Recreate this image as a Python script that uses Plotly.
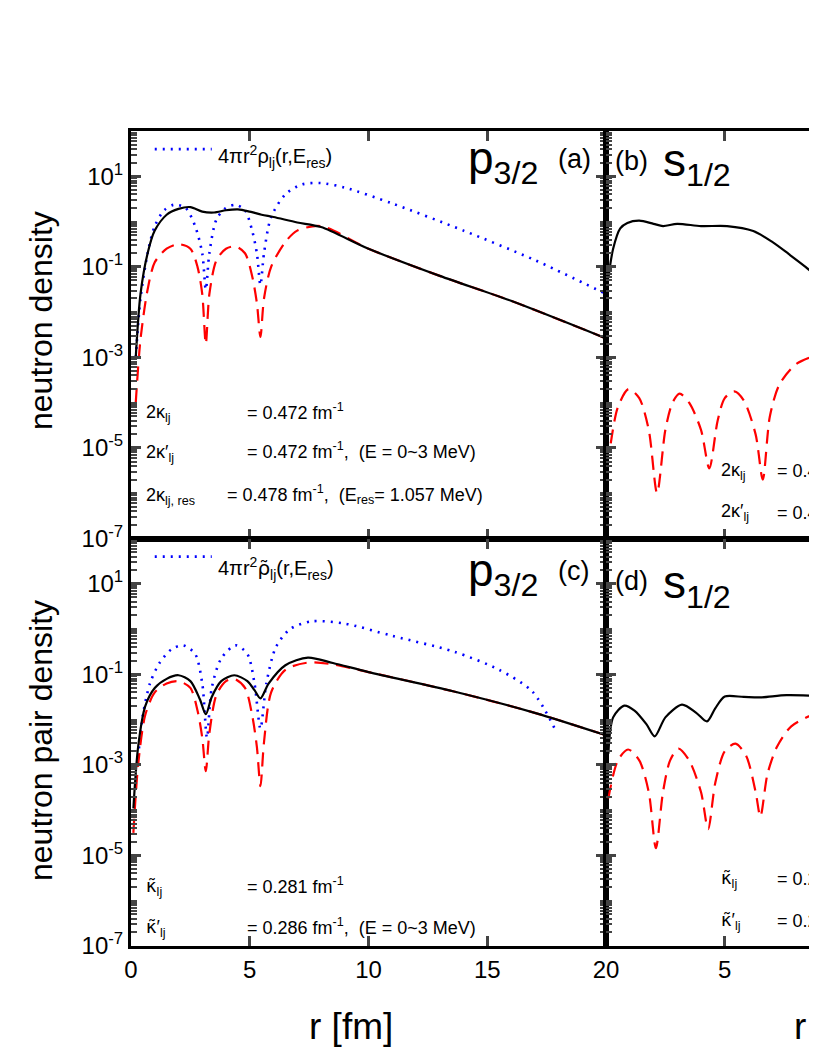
import plotly.graph_objects as go

# ---- data (log10 values) ----
a_black_r = [0.2, 0.4, 0.7, 1.0, 1.5, 2.0, 2.5, 3.0, 3.5, 4.0, 4.5, 5.0, 5.5, 6.0, 7.0, 8.0, 10.0, 13.0, 16.0, 20.0]
a_black_l = [-3.0, -1.6, -0.7, -0.2, 0.15, 0.28, 0.32, 0.22, 0.2, 0.25, 0.27, 0.22, 0.15, 0.1, -0.02, -0.12, -0.6, -1.2, -1.75, -2.58]
a_red_r = [0.2, 0.4, 0.7, 1.0, 1.5, 2.0, 2.5, 2.8, 3.0, 3.15, 3.3, 3.6, 4.0, 4.4, 4.8, 5.1, 5.3, 5.45, 5.6, 5.9, 6.5, 7.0, 8.0, 10.0, 13.0, 16.0, 20.0]
a_red_l = [-4.0, -2.6, -1.5, -0.9, -0.6, -0.5, -0.6, -1.0, -1.6, -2.7, -1.6, -0.85, -0.6, -0.55, -0.7, -1.2, -1.8, -2.55, -1.7, -1.0, -0.45, -0.2, -0.1, -0.6, -1.2, -1.75, -2.58]
a_blue_r = [0.2, 0.4, 0.7, 1.0, 1.4, 1.8, 2.3, 2.7, 3.0, 3.15, 3.3, 3.6, 4.0, 4.4, 4.8, 5.1, 5.3, 5.45, 5.6, 5.9, 6.5, 7.2, 8.0, 9.0, 11.0, 14.0, 17.0, 20.0]
a_blue_l = [-3.0, -1.7, -0.7, -0.1, 0.25, 0.37, 0.3, -0.1, -0.7, -1.5, -0.7, 0.05, 0.3, 0.37, 0.25, -0.2, -0.7, -1.4, -0.7, 0.1, 0.6, 0.82, 0.85, 0.75, 0.4, -0.2, -0.85, -1.6]

b_black_r = [0.1, 0.3, 0.6, 0.9, 1.4, 2.0, 2.4, 3.0, 4.0, 5.1, 6.2, 7.0, 7.7, 8.4, 9.0, 9.6]
b_black_l = [-1.25, -0.6, -0.15, -0.03, 0.02, -0.05, -0.1, -0.05, -0.1, -0.1, -0.21, -0.45, -0.72, -1.0, -1.27, -1.5]
b_red_r = [0.2, 0.5, 0.95, 1.4, 1.8, 2.15, 2.5, 2.8, 3.1, 3.5, 4.0, 4.35, 4.7, 5.0, 5.4, 5.8, 6.3, 6.6, 6.9, 7.3, 8.0, 9.1, 9.6]
b_red_l = [-4.9, -4.1, -3.7, -3.9, -4.6, -6.0, -4.6, -4.0, -3.8, -4.0, -4.6, -5.45, -4.4, -3.9, -3.75, -3.95, -4.7, -5.7, -4.3, -3.6, -3.15, -2.9, -2.8]

c_black_r = [0.1, 0.3, 0.6, 1.0, 1.5, 2.0, 2.5, 2.9, 3.15, 3.4, 3.8, 4.35, 4.9, 5.2, 5.45, 5.8, 6.5, 7.45, 8.5, 10.0, 13.6, 17.0, 19.9]
c_black_l = [-3.96, -2.6, -1.7, -1.3, -1.1, -1.02, -1.15, -1.55, -1.88, -1.5, -1.15, -1.02, -1.15, -1.35, -1.53, -1.2, -0.8, -0.63, -0.75, -0.95, -1.38, -1.85, -2.33]
c_red_r = [0.1, 0.3, 0.6, 1.0, 1.5, 2.0, 2.5, 2.8, 3.0, 3.15, 3.3, 3.6, 4.0, 4.35, 4.8, 5.1, 5.3, 5.45, 5.6, 5.9, 6.5, 7.45, 8.5, 10.0, 13.6, 17.0, 19.9]
c_red_l = [-4.5, -3.0, -1.9, -1.4, -1.2, -1.15, -1.3, -1.8, -2.4, -3.14, -2.3, -1.45, -1.15, -1.1, -1.3, -1.9, -2.6, -3.47, -2.5, -1.4, -0.9, -0.74, -0.78, -0.95, -1.38, -1.85, -2.33]
c_blue_r = [0.27, 0.5, 0.8, 1.2, 1.7, 2.2, 2.7, 3.0, 3.2, 3.4, 3.8, 4.4, 4.9, 5.2, 5.45, 5.7, 6.1, 6.7, 7.6, 9.0, 11.0, 13.6, 15.5, 16.9, 17.9]
c_blue_l = [-2.99, -1.9, -1.2, -0.75, -0.45, -0.36, -0.55, -1.2, -2.4, -1.3, -0.65, -0.36, -0.55, -1.2, -2.2, -1.2, -0.4, 0.0, 0.17, 0.12, -0.15, -0.5, -0.9, -1.38, -2.26]

d_black_r = [0.1, 0.3, 0.77, 1.2, 1.7, 2.05, 2.5, 3.2, 3.8, 4.25, 4.6, 5.0, 5.8, 6.5, 7.6, 9.0, 9.6]
d_black_l = [-2.75, -1.95, -1.69, -1.8, -2.1, -2.37, -1.95, -1.67, -1.85, -2.04, -1.75, -1.49, -1.5, -1.51, -1.46, -1.48, -1.5]
d_red_r = [0.1, 0.5, 0.93, 1.4, 1.8, 2.1, 2.4, 2.7, 3.05, 3.5, 4.0, 4.3, 4.6, 5.0, 5.45, 5.9, 6.3, 6.5, 6.8, 7.2, 7.8, 9.0, 9.6]
d_red_l = [-3.74, -2.9, -2.66, -2.9, -3.6, -4.84, -3.6, -2.9, -2.64, -2.9, -3.6, -4.42, -3.4, -2.7, -2.53, -2.8, -3.6, -4.14, -3.2, -2.6, -2.15, -1.82, -1.7]

TICK_EXP = [-7, -5, -3, -1, 1]
TICK_TEXT = ["10<sup>%d</sup>" % e for e in TICK_EXP]

FONT = "Liberation Sans"
fig = go.Figure()

def add(r, l, color, dash, xa, ya, width=2.2):
    fig.add_trace(go.Scatter(x=r, y=[10 ** v for v in l], mode="lines",
                             line=dict(color=color, dash=dash, width=width, shape="spline", smoothing=0.8),
                             xaxis=xa, yaxis=ya, showlegend=False, hoverinfo="skip"))

DOT = "2px,6px"
DASH = "14px,8px"
add(a_blue_r, a_blue_l, "blue", DOT, "x", "y", 2.6)
add(a_red_r, a_red_l, "red", DASH, "x", "y")
add(a_black_r, a_black_l, "black", "solid", "x", "y")
add(b_red_r, b_red_l, "red", DASH, "x2", "y2")
add(b_black_r, b_black_l, "black", "solid", "x2", "y2")
add(c_blue_r, c_blue_l, "blue", DOT, "x3", "y3", 2.6)
add(c_red_r, c_red_l, "red", DASH, "x3", "y3")
add(c_black_r, c_black_l, "black", "solid", "x3", "y3")
add(d_red_r, d_red_l, "red", DASH, "x4", "y4")
add(d_black_r, d_black_l, "black", "solid", "x4", "y4")

yax = dict(type="log", range=[-7, 2], tickvals=[10 ** e for e in TICK_EXP], ticktext=TICK_TEXT,
           ticks="inside", ticklen=10, tickwidth=2.5, mirror="ticks", showline=True, linewidth=3,
           linecolor="black", showgrid=False, zeroline=False, tickfont=dict(family=FONT, size=24, color="black"),
           minor=dict(ticks="inside", ticklen=6, tickwidth=2, dtick="D1", showgrid=False))
xax = dict(range=[0, 20], ticks="inside", ticklen=10, tickwidth=2.5, mirror="ticks", showline=True,
           linewidth=3, linecolor="black", showgrid=False, zeroline=False,
           tickfont=dict(family=FONT, size=24, color="black"))

W, H = 1100, 1058
OFF = 7
fig.update_layout(
    width=W, height=H, margin=dict(l=130 - OFF, r=W - 1080 + OFF, t=130 - OFF, b=H - 945 + OFF),
    plot_bgcolor="white", paper_bgcolor="white",
    xaxis=dict(**xax, domain=[0, 0.5], anchor="y", tickvals=[0, 5, 10, 15, 20], showticklabels=False),
    yaxis=dict(**yax, domain=[0.5, 1], anchor="x"),
    xaxis2=dict(**xax, domain=[0.5, 1], anchor="y2", tickvals=[5, 10, 15, 20], showticklabels=False),
    yaxis2=dict(**yax, domain=[0.5, 1], anchor="x2", showticklabels=False),
    xaxis3=dict(**xax, domain=[0, 0.5], anchor="y3", tickvals=[0, 5, 10, 15, 20]),
    yaxis3=dict(**yax, domain=[0, 0.5], anchor="x3"),
    xaxis4=dict(**xax, domain=[0.5, 1], anchor="y4", tickvals=[5, 10, 15, 20]),
    yaxis4=dict(**yax, domain=[0, 0.5], anchor="x4", showticklabels=False),
)

# legend sample lines
fig.add_shape(type="line", xref="x", yref="y", x0=1.0, x1=3.4, y0=10 ** 1.6, y1=10 ** 1.6,
              line=dict(color="blue", dash=DOT, width=2.6))
fig.add_shape(type="line", xref="x3", yref="y3", x0=1.0, x1=3.4, y0=10 ** 1.6, y1=10 ** 1.6,
              line=dict(color="blue", dash=DOT, width=2.6))

def px(x, y):
    return ((x - 130) / 950, (945 - y) / 815)

def T(x, y, s, size=18, xanchor="left", family=FONT):
    xx, yy = px(x, y)
    fig.add_annotation(x=xx, y=yy, xref="paper", yref="paper", text=s, showarrow=False,
                       xanchor=xanchor, yanchor="middle",
                       font=dict(family=family, size=size, color="black"))

KT = "<span style='font-family:DejaVu Sans'>κ̃</span>"

T(215, 155, "4πr<sup>2</sup>ρ<sub>lj</sub>(r,E<sub>res</sub>)", 20)
T(215, 567, "4πr<sup>2</sup><span style='font-family:DejaVu Sans'>ρ̃</span><sub>lj</sub>(r,E<sub>res</sub>)", 20)
T(465, 160, "p<sub>3/2</sub>", 46)
T(555, 158, "(a)", 27)
T(612, 160, "(b)", 27)
T(660, 162, "s<sub>1/2</sub>", 46)
T(465, 572, "p<sub>3/2</sub>", 46)
T(555, 570, "(c)", 27)
T(612, 580, "(d)", 27)
T(660, 584, "s<sub>1/2</sub>", 46)

T(143, 412, "2κ<sub>lj</sub>")
T(244, 410, "= 0.472 fm<sup>-1</sup>")
T(143, 452, "2κ′<sub>lj</sub>")
T(244, 450, "= 0.472 fm<sup>-1</sup>,  (E = 0~3 MeV)")
T(143, 495, "2κ<sub>lj, res</sub>")
T(224, 493, "= 0.478 fm<sup>-1</sup>,  (E<sub>res</sub>= 1.057 MeV)")
T(718, 470, "2κ<sub>lj</sub>")
T(774, 468, "= 0.4 fm<sup>-1</sup>")
T(718, 512, "2κ′<sub>lj</sub>")
T(774, 510, "= 0.4 fm<sup>-1</sup>")

T(143, 886, KT + "<sub>lj</sub>")
T(244, 884, "= 0.281 fm<sup>-1</sup>")
T(143, 927, KT + "′<sub>lj</sub>")
T(244, 925, "= 0.286 fm<sup>-1</sup>,  (E = 0~3 MeV)")
T(718, 878, KT + "<sub>lj</sub>")
T(774, 876, "= 0.2 fm<sup>-1</sup>")
T(718, 920, KT + "′<sub>lj</sub>")
T(774, 918, "= 0.2 fm<sup>-1</sup>")

T(350, 1025, "r [fm]", 37, "center")
T(835, 1025, "r [fm]", 37, "center")

xx, yy = px(40, 320)
fig.add_annotation(x=xx, y=yy, xref="paper", yref="paper", text="neutron density", textangle=-90,
                   xanchor="center", yanchor="middle",
                   showarrow=False, font=dict(family=FONT, size=32, color="black"))
xx, yy = px(40, 740)
fig.add_annotation(x=xx, y=yy, xref="paper", yref="paper", text="neutron pair density", textangle=-90,
                   xanchor="center", yanchor="middle",
                   showarrow=False, font=dict(family=FONT, size=32, color="black"))

fig.write_html("out.html")
